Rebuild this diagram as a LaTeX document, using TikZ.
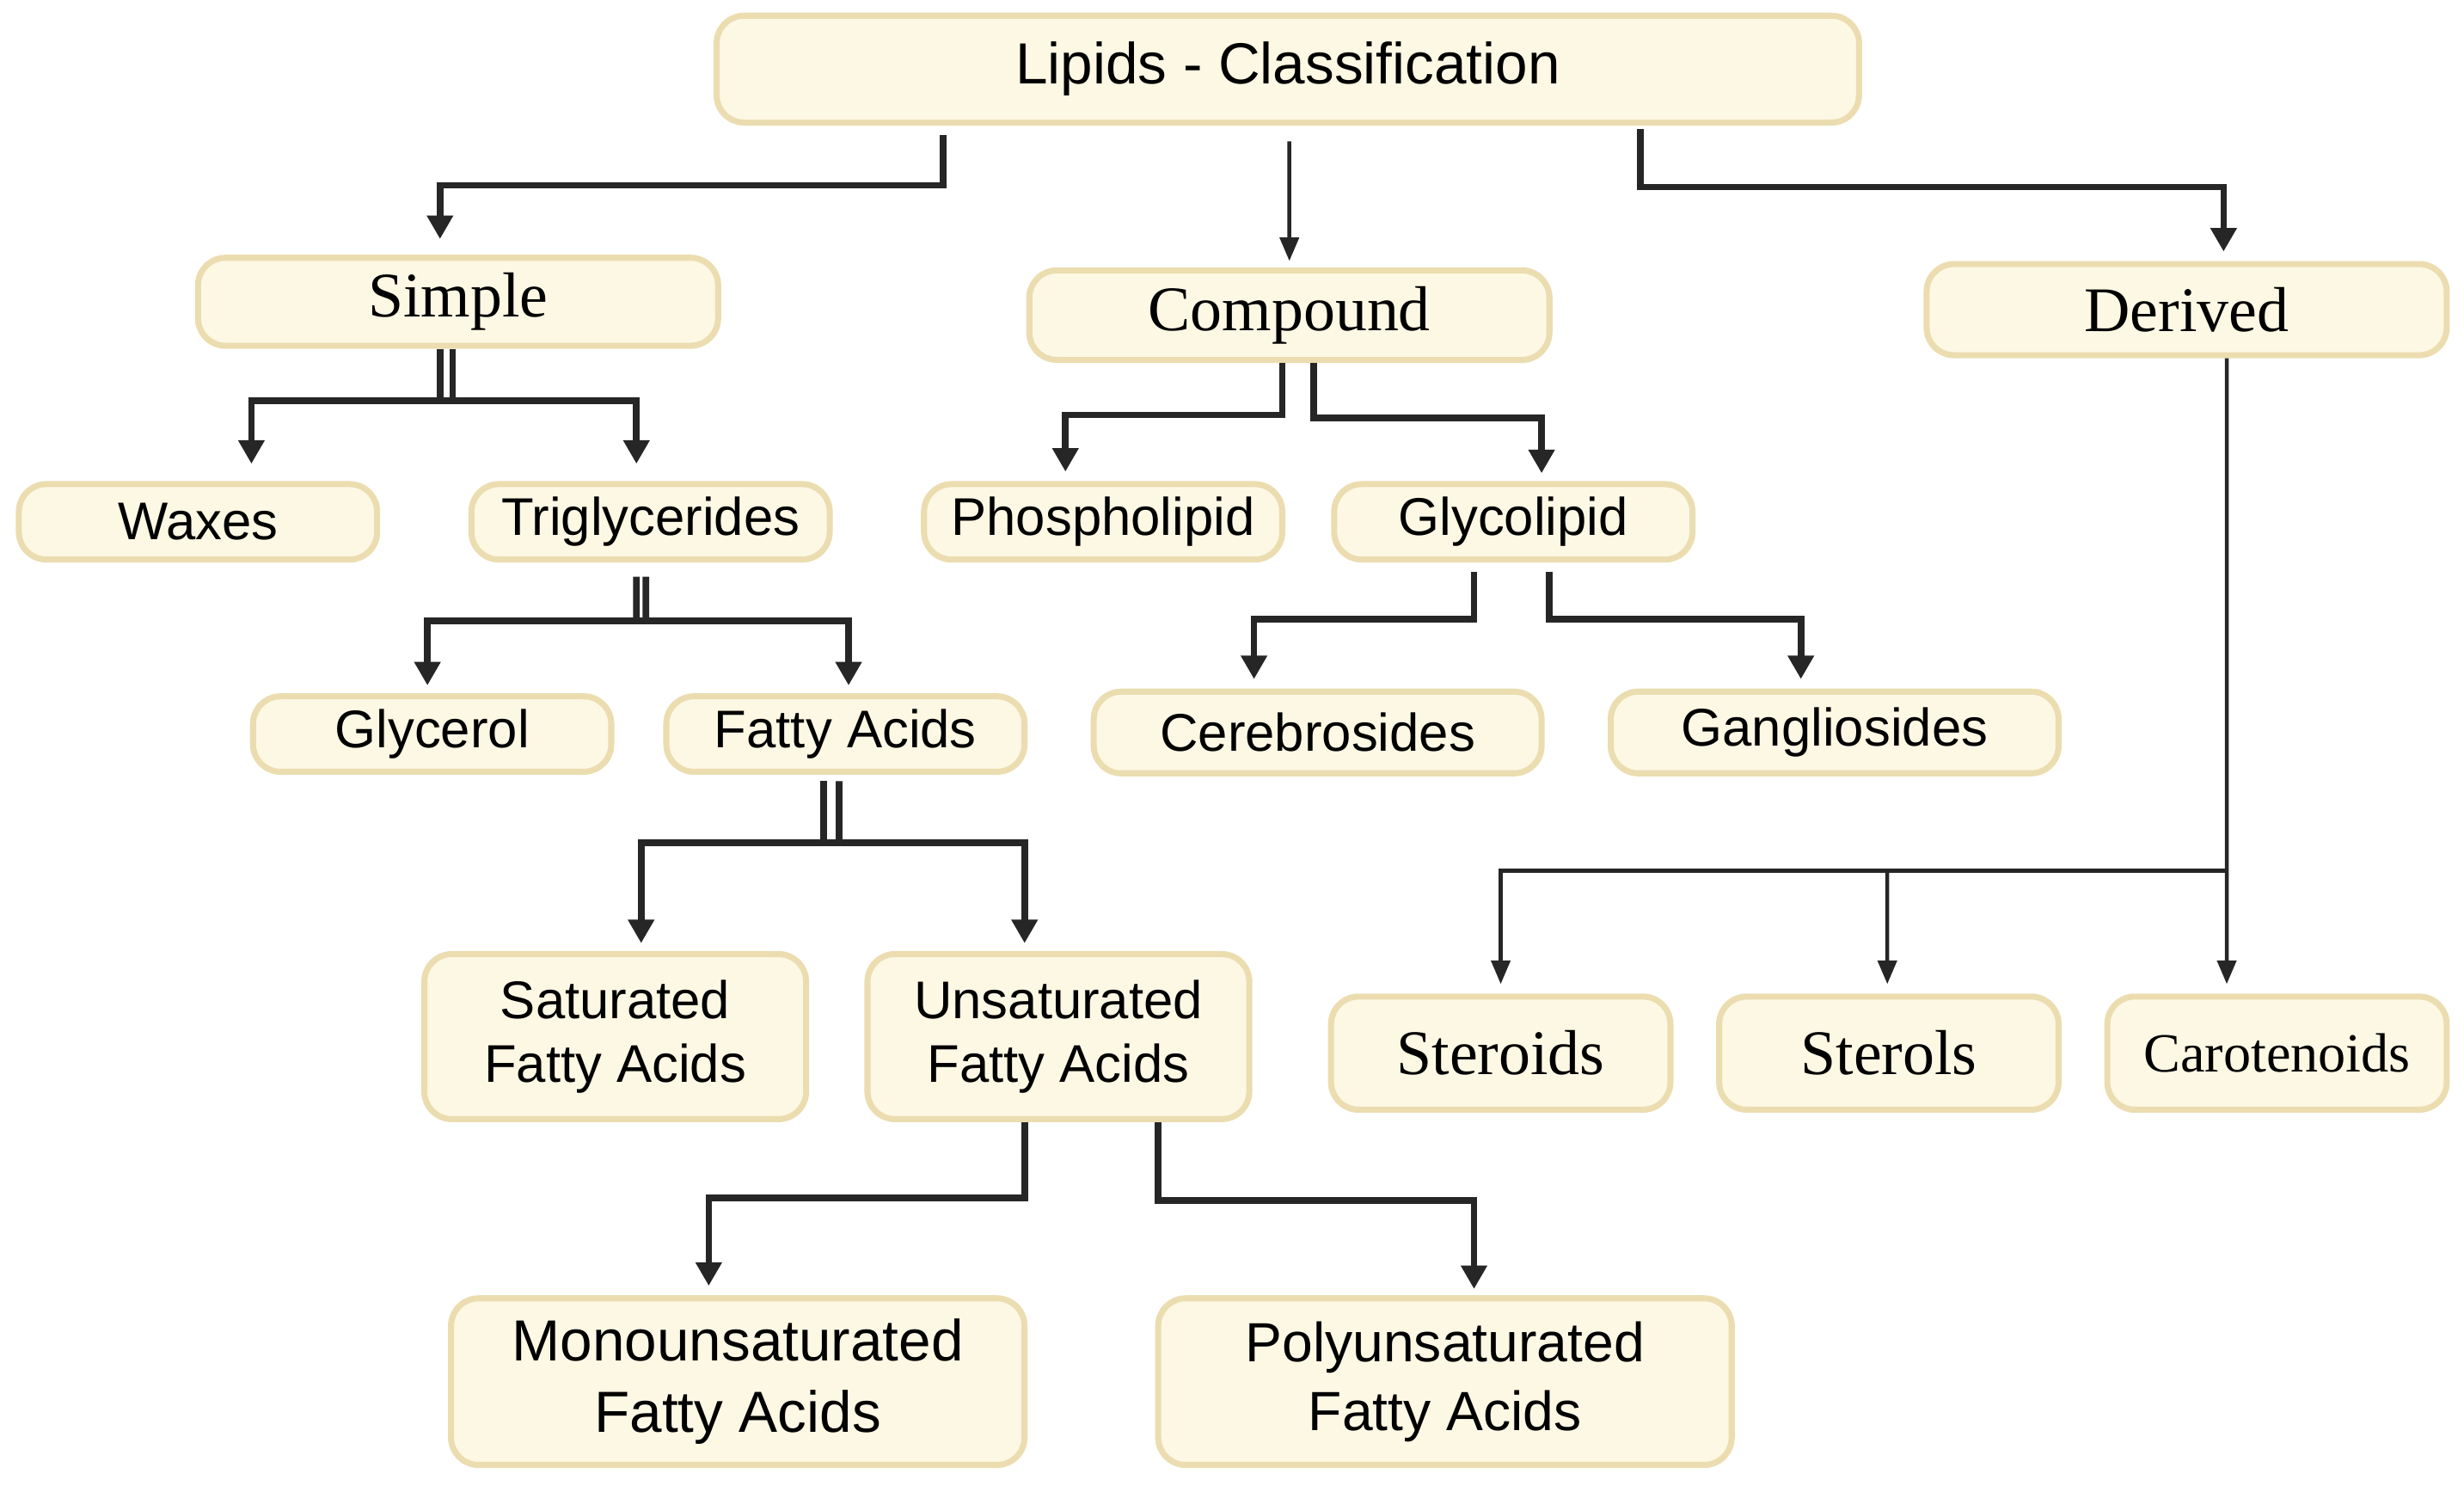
\documentclass[tikz,border=0pt]{standalone}
\usepackage{fontspec}
\setmainfont{Liberation Serif}
\newfontfamily\sansf{Liberation Sans}
\usetikzlibrary{arrows.meta}
\definecolor{boxfill}{HTML}{FDF8E4}
\definecolor{boxline}{HTML}{EBDDB0}
\definecolor{lineblk}{HTML}{262626}

\tikzset{
    box/.style={draw=boxline, fill=boxfill, line width=1.1pt, rounded corners=5pt,
        align=center, inner sep=0pt, minimum width=#1},
    box/.default=2.28cm,
    sbox/.style={box=#1, font=\sansf\fontsize{9.6}{11.5}\selectfont},
    sbox/.default=2.28cm,
    tbox/.style={box=#1, font=\fontsize{11.5}{14}\selectfont},
    tbox/.default=3.31cm,
    arr/.style={draw=lineblk, line width=1.2pt, -{Triangle[length=1.5mm, width=1.6mm]}},
    arrthin/.style={draw=lineblk, line width=0.7pt, -{Triangle[length=1.5mm, width=1.2mm]}},
    bar/.style={draw=lineblk, line width=1.2pt}
}

\begin{document}
\begin{tikzpicture}
\useasboundingbox (0,0) rectangle (15.68,-9.45);

% boxes
\node[sbox=7.27cm, minimum height=0.68cm, font=\sansf\fontsize{10.5}{12}\selectfont] (lip) at (8.195,-0.44) {Lipids - Classification};

\node[tbox, minimum height=0.56cm] (sim) at (2.915,-1.92) {Simple};
\node[tbox, minimum height=0.57cm] (com) at (8.205,-2.005) {Compound};
\node[tbox, minimum height=0.58cm] (der) at (13.915,-1.97) {Derived};

\node[sbox, minimum height=0.48cm] (wax) at (1.26,-3.32) {Waxes};
\node[sbox, minimum height=0.48cm] (tri) at (4.14,-3.32) {Triglycerides};
\node[sbox, minimum height=0.48cm] (pho) at (7.02,-3.32) {Phospholipid};
\node[sbox, minimum height=0.48cm] (gly) at (9.63,-3.32) {Glycolipid};

\node[sbox, minimum height=0.48cm] (glc) at (2.75,-4.67) {Glycerol};
\node[sbox, minimum height=0.48cm] (fat) at (5.38,-4.67) {Fatty Acids};
\node[sbox=2.85cm, minimum height=0.52cm] (cer) at (8.385,-4.66) {Cerebrosides};
\node[sbox=2.85cm, minimum height=0.52cm] (gan) at (11.675,-4.66) {Gangliosides};

\node[sbox=2.43cm, minimum height=1.05cm] (sat) at (3.915,-6.595) {Saturated\\Fatty Acids};
\node[sbox=2.43cm, minimum height=1.05cm] (uns) at (6.735,-6.595) {Unsaturated\\Fatty Acids};

\node[tbox=2.16cm, minimum height=0.72cm] (ste) at (9.55,-6.70) {Steroids};
\node[tbox=2.16cm, minimum height=0.72cm] (stl) at (12.02,-6.70) {Sterols};
\node[tbox=2.16cm, minimum height=0.72cm, font=\fontsize{10}{12}\selectfont] (car) at (14.49,-6.70) {Carotenoids};

\node[sbox=3.65cm, minimum height=1.06cm, font=\sansf\fontsize{10.5}{13}\selectfont] (mon) at (4.695,-8.79) {Monounsaturated\\Fatty Acids};
\node[sbox=3.65cm, minimum height=1.06cm, font=\sansf\fontsize{10}{12.5}\selectfont] (pol) at (9.195,-8.79) {Polyunsaturated\\Fatty Acids};

% lipids
\draw[arr] ([xshift=-21.95mm, yshift=-0.6mm]lip.south) -- ++(0,-0.32) -| ([xshift=-1.15mm, yshift=1mm]sim.north);
\draw[arrthin] ([xshift=0.1mm, yshift=-1mm]lip.south) -- ([yshift=0.4mm]com.north);
\draw[arr] ([xshift=22.45mm, yshift=-0.2mm]lip.south) -- ++(0,-0.37) -| ([xshift=2.35mm, yshift=0.6mm]der.north);

% simple
\coordinate (js) at (2.84,-2.55);
\draw[bar] ([xshift=-1.15mm]sim.south) -- ++(0,-0.33);
\draw[bar] ([xshift=-0.35mm]sim.south) -- ++(0,-0.33);
\draw[arr] (js) -| ([xshift=3.4mm, yshift=1.1mm]wax.north);
\draw[arr] (js) -| ([xshift=-0.9mm, yshift=1.1mm]tri.north);

% compound
\draw[arr] ([xshift=-0.45mm]com.south) -- ++(0,-0.33) -| ([xshift=-2.4mm, yshift=0.6mm]pho.north);
\draw[arr] ([xshift=1.55mm]com.south) -- ++(0,-0.35) -| ([xshift=1.8mm, yshift=0.5mm]gly.north);

% triglycerides
\coordinate (jt) at (4.08,-3.95);
\draw[bar] ([xshift=-0.9mm, yshift=-0.9mm]tri.south) -- (4.05,-3.95);
\draw[bar] ([xshift=-0.3mm, yshift=-0.9mm]tri.south) -- (4.11,-3.95);
\draw[arr] (jt) -| ([xshift=-0.3mm, yshift=0.5mm]glc.north);
\draw[arr] (jt) -| ([xshift=0.2mm, yshift=0.5mm]fat.north);

% glycolipid
\draw[arr] ([xshift=-2.5mm, yshift=-0.6mm]gly.south) -- ++(0,-0.30) -| ([xshift=-4.05mm, yshift=0.6mm]cer.north);
\draw[arr] ([xshift=2.3mm, yshift=-0.6mm]gly.south) -- ++(0,-0.30) -| ([xshift=-2.15mm, yshift=0.6mm]gan.north);

% fatty acids
\coordinate (jf) at (5.29,-5.36);
\draw[bar] ([xshift=-1.4mm, yshift=-0.4mm]fat.south) -- (5.24,-5.36);
\draw[bar] ([xshift=-0.4mm, yshift=-0.4mm]fat.south) -- (5.34,-5.36);
\draw[arr] (jf) -| ([xshift=1.65mm, yshift=0.5mm]sat.north);
\draw[arr] (jf) -| ([xshift=-2.15mm, yshift=0.5mm]uns.north);

% derived
\coordinate (jd) at (14.17,-5.54);
\draw[arrthin] ([xshift=2.55mm]der.south) -- ([xshift=-3.2mm, yshift=0.6mm]car.north);
\draw[arrthin] (jd) -| ([yshift=0.6mm]ste.north);
\draw[arrthin] ([xshift=-21.6mm]jd) -- ([xshift=-0.1mm, yshift=0.6mm]stl.north);

% unsaturated
\draw[arr] ([xshift=-2.15mm]uns.south) -- ++(0,-0.48) -| ([xshift=-1.85mm, yshift=0.6mm]mon.north);
\draw[arr] ([xshift=6.35mm]uns.south) -- ++(0,-0.50) -| ([xshift=1.85mm, yshift=0.4mm]pol.north);

\end{tikzpicture}
\end{document}
